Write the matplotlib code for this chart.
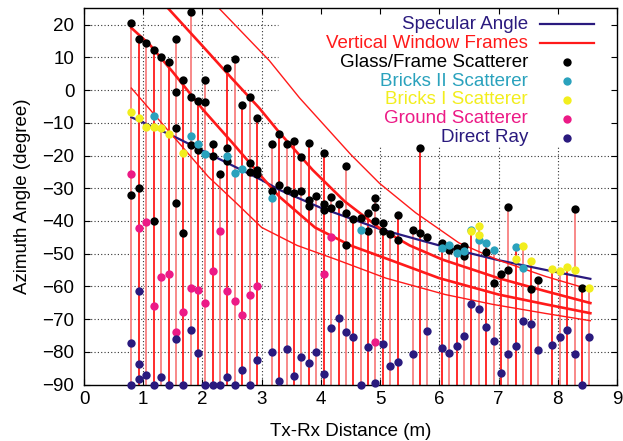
import matplotlib
matplotlib.use("Agg")
import matplotlib.pyplot as plt

plt.rcParams['font.family'] = ['Liberation Sans', 'DejaVu Sans']
plt.rcParams['font.size'] = 13.5

# measurement positions (Tx-Rx distance, m) that carry an impulse line
pos_d = [0.80, 0.93, 1.05, 1.18, 1.30, 1.43, 1.55, 1.68, 1.80, 1.92, 2.05, 2.17,
         2.30, 2.42, 2.55, 2.67, 2.80, 2.92, 3.17, 3.30, 3.42, 3.55, 3.67, 3.80,
         3.92, 4.05, 4.17, 4.30, 4.42, 4.55, 4.67, 4.80, 4.92, 5.05, 5.17, 5.30,
         5.55, 5.67, 5.80, 6.04, 6.17, 6.29, 6.42, 6.54, 6.67, 6.79, 6.92, 7.04,
         7.16, 7.29, 7.41, 7.54, 7.66, 7.91, 8.04, 8.16, 8.29, 8.41, 8.53]

# specular angle curve
spec_d = [0.80, 1.5, 2.0, 2.5, 3.0, 3.3, 4.0, 5.0, 6.0, 6.5, 7.0, 7.8, 8.55]
spec_a = [-8.3, -14.0, -18.5, -23.0, -27.5, -30.5, -36.0, -42.5, -47.5, -49.8, -52.0, -55.0, -57.7]

# vertical window frame curves (two thick, two thin)
thinb_d = [0.80, 1.5, 2.1, 2.57, 3.0, 3.6, 4.26, 5.1, 6.1, 6.9, 7.8, 8.55]
thinb_a = [0.6, -14.0, -26.5, -34.5, -42.0, -47.5, -51.8, -57.5, -62.5, -65.5, -68.3, -70.5]
thick1_d = [0.80, 1.11, 1.5, 2.01, 2.5, 3.0, 3.3, 3.9, 4.5, 5.15, 6.0, 7.0, 7.8, 8.55]
thick1_a = [19.0, 13.9, 5.5, -6.0, -16.0, -26.5, -32.6, -42.0, -47.5, -51.8, -57.5, -62.5, -65.5, -68.2]
thick2_d = [1.42, 2.0, 2.5, 2.96, 3.3, 3.86, 4.4, 4.99, 5.5, 6.05, 7.0, 7.8, 8.55]
thick2_a = [25.0, 13.5, 3.5, -5.5, -13.0, -24.4, -34.0, -42.2, -47.5, -51.8, -57.5, -61.5, -65.1]
thina_d = [2.28, 3.13, 3.64, 4.51, 4.99, 5.6, 6.33, 7.0, 7.8, 8.55]
thina_a = [25.0, 9.0, -2.4, -19.8, -28.5, -37.5, -46.7, -52.0, -57.0, -61.0]

# Glass/Frame scatterer
glass_d = [0.80, 0.80, 0.93, 0.93, 1.05, 1.18, 1.18, 1.30, 1.43, 1.55, 1.55, 1.55, 1.55,
           1.68, 1.68, 1.80, 1.80, 1.80, 1.92, 1.92, 2.05, 2.05, 2.17, 2.17, 2.30,
           2.42, 2.42, 2.42, 2.55, 2.67, 2.80, 2.80, 2.80, 2.92, 2.92, 2.92,
           3.17, 3.17, 3.30, 3.30, 3.42, 3.42, 3.55, 3.55, 3.67, 3.67, 3.80, 3.80, 3.80,
           3.92, 4.05, 4.05, 4.05, 4.17, 4.17, 4.30, 4.42, 4.42, 4.42, 4.55, 4.67,
           4.80, 4.80, 4.92, 4.92, 4.92, 5.05, 5.05, 5.17, 5.30, 5.30, 5.55, 5.67, 5.67,
           5.80, 6.04, 6.17, 6.29, 6.42, 6.42, 6.79, 6.92, 7.04, 7.16, 7.16, 7.54,
           7.66, 8.29, 8.41]
glass_a = [20.5, -32.2, 15.7, -29.8, 14.4, 12.4, -40.1, 10.1, 8.6, 15.7, -0.6, -11.7, -34.4,
           3.2, -43.7, 23.9, -2.0, -16.7, -3.2, -18.3, 3.2, -3.5, -16.5, -20.3, -25.6,
           6.7, -17.6, -21.8, 9.5, -4.5, -2.2, -22.3, -25.1, -8.6, -24.4, -25.6,
           -16.4, -31.0, -13.5, -29.0, -16.5, -30.5, -15.5, -31.5, -20.5, -31.0, -16.3, -33.5, -35.4,
           -32.5, -19.3, -34.8, -36.8, -32.7, -36.1, -34.8, -23.2, -37.6, -47.3, -39.5, -39.2,
           -37.6, -43.2, -33.0, -35.6, -39.9, -40.5, -43.0, -44.0, -38.3, -45.7, -42.7, -17.7, -43.6,
           -44.8, -46.7, -48.9, -48.4, -47.7, -50.6, -49.4, -59.1, -56.3, -35.6, -55.0, -60.9,
           -58.2, -36.4, -60.5]

# Bricks II scatterer
brick2_d = [1.18, 1.80, 1.92, 2.05, 2.42, 2.55, 2.67, 3.17, 4.67, 6.04, 6.17, 6.29,
            6.42, 6.54, 6.67, 6.79, 6.92, 7.29, 7.41]
brick2_a = [-7.8, -14.1, -16.6, -19.4, -20.2, -25.4, -24.1, -33.1, -42.7, -48.4, -47.3, -49.7,
            -49.3, -42.8, -45.7, -46.7, -48.8, -48.0, -54.5]

# Bricks I scatterer
brick1_d = [0.80, 0.93, 1.05, 1.18, 1.30, 1.43, 1.68, 6.54, 6.67, 6.67, 7.29, 7.41,
            7.54, 7.91, 8.04, 8.16, 8.29, 8.53]
brick1_a = [-6.6, -8.4, -11.2, -11.2, -11.7, -13.4, -19.2, -43.0, -41.5, -44.3, -51.6, -47.7,
            -52.2, -54.6, -55.2, -54.1, -54.9, -60.4]

# Ground scatterer
ground_d = [0.80, 0.93, 1.05, 1.18, 1.30, 1.43, 1.55, 1.68, 1.80, 1.92, 2.05, 2.17,
            2.30, 2.42, 2.55, 2.67, 2.80, 2.92, 4.05, 4.17, 4.92]
ground_a = [-25.6, -42.3, -40.3, -66.0, -57.2, -56.1, -74.0, -67.8, -60.4, -61.1, -65.0, -55.4,
            -43.0, -61.3, -64.6, -68.8, -62.6, -59.9, -56.3, -44.8, -77.1]

# Direct ray
direct_d = [0.80, 0.80, 0.93, 0.93, 0.93, 1.05, 1.18, 1.30, 1.43, 1.55, 1.68, 1.80, 1.92,
            2.05, 2.17, 2.30, 2.42, 2.55, 2.67, 2.80, 2.92, 3.17, 3.30, 3.42, 3.55, 3.67,
            3.80, 3.92, 4.05, 4.17, 4.30, 4.42, 4.55, 4.67, 4.80, 4.92, 5.05, 5.17, 5.30,
            5.55, 5.80, 6.04, 6.17, 6.29, 6.42, 6.54, 6.67, 6.79, 6.92, 7.04, 7.16, 7.29,
            7.41, 7.54, 7.66, 7.91, 8.04, 8.16, 8.29, 8.41, 8.53]
direct_a = [-77.2, -90.0, -61.3, -83.7, -88.4, -87.0, -90.0, -87.8, -90.0, -76.2, -90.0, -73.3, -80.3,
            -90.0, -90.0, -90.0, -87.8, -90.0, -85.6, -90.0, -82.6, -80.0, -88.9, -79.3, -87.3, -81.5,
            -83.3, -80.1, -86.7, -72.8, -69.6, -74.1, -75.6, -90.0, -78.5, -89.5, -77.6, -84.3, -83.0,
            -80.6, -73.5, -78.9, -80.3, -78.2, -75.2, -65.5, -66.8, -72.4, -76.6, -86.4, -80.6, -78.3,
            -70.6, -71.5, -79.5, -78.0, -75.6, -73.2, -80.6, -90.0, -75.6]

C_NAVY = '#2a1a7e'
C_RED = '#ff1a1a'
C_LRED = '#f88080'
C_TEAL = '#2aa2bd'
C_YEL = '#f2ee1e'
C_PINK = '#ec1a86'

fig = plt.figure(figsize=(6.23, 4.41), dpi=100)
ax = fig.add_axes([84 / 623, 1 - 384.5 / 441, 533 / 623, 376.2 / 441])
ax.set_xlim(0, 9)
ax.set_ylim(-90, 25)
ax.set_xticks(range(0, 10))
ax.set_yticks(range(-90, 21, 10))
ax.tick_params(direction='in', top=True, right=True, length=4, width=0.8)
ax.tick_params(axis='x', pad=5)
ax.tick_params(axis='y', pad=7)
for s in ax.spines.values():
    s.set_linewidth(1.0)

# dotted grid, left out where the key sits
grid_kw = dict(color='#333333', lw=0.8, ls=(0, (1, 2)), zorder=0.5)
for x in range(1, 9):
    ax.plot([x, x], [-90, -17.3 if x >= 4 else 25], **grid_kw)
for y in range(-80, 21, 10):
    ax.plot([0, 3.27 if y >= -10 else 9], [y, y], **grid_kw)

# impulse lines: from the bottom up to the highest point at each position
all_d = glass_d + brick2_d + brick1_d + ground_d + direct_d
all_a = glass_a + brick2_a + brick1_a + ground_a + direct_a
for i, d in enumerate(pos_d):
    top = max(a for dd, a in zip(all_d, all_a) if abs(dd - d) < 0.03)
    ax.vlines(d, -90, top, color=C_LRED if i % 2 == 0 else C_RED, lw=1.3, zorder=1)

ax.plot(spec_d, spec_a, color=C_NAVY, lw=1.6, zorder=2)
ax.plot(thinb_d, thinb_a, color=C_RED, lw=1.0, zorder=2)
ax.plot(thina_d, thina_a, color=C_RED, lw=1.0, zorder=2)
ax.plot(thick1_d, thick1_a, color=C_RED, lw=1.9, zorder=2)
ax.plot(thick2_d, thick2_a, color=C_RED, lw=1.9, zorder=2)

mk = dict(ls='none', marker='o', ms=6, mew=0, zorder=3, clip_on=False)
ax.plot(glass_d, glass_a, color='black', **mk)
ax.plot(brick2_d, brick2_a, color=C_TEAL, **mk)
ax.plot(brick1_d, brick1_a, color=C_YEL, **mk)
ax.plot(ground_d, ground_a, color=C_PINK, **mk)
ax.plot(direct_d, direct_a, color=C_NAVY, **mk)

# key in gnuplot style: right-justified coloured text, sample on the right
labels = ['Specular Angle', 'Vertical Window Frames', 'Glass/Frame Scatterer',
          'Bricks II Scatterer', 'Bricks I Scatterer', 'Ground Scatterer', 'Direct Ray']
colors = [C_NAVY, C_RED, 'black', C_TEAL, C_YEL, C_PINK, C_NAVY]
for i, (lab, c) in enumerate(zip(labels, colors)):
    py = 24.3 + 18.9 * i
    yy = (384.5 - py) / 376.2
    ax.text((528 - 84) / 533, yy, lab, color=c, ha='right', va='center',
            transform=ax.transAxes, zorder=5)
    if i < 2:
        ax.plot([(540 - 84) / 533, (594 - 84) / 533], [yy, yy], color=c, lw=1.6,
                transform=ax.transAxes, clip_on=False, zorder=5)
    else:
        ax.plot([(567 - 84) / 533], [yy], color=c, ls='none', marker='o', ms=6, mew=0,
                transform=ax.transAxes, clip_on=False, zorder=5)

ax.set_xlabel('Tx-Rx Distance (m)')
ax.set_ylabel('Azimuth Angle (degree)')
ax.xaxis.set_label_coords(0.5, (384.5 - 423) / 376.2)
ax.yaxis.set_label_coords((31 - 84) / 533, 0.5)

fig.savefig('out.png', dpi=100)
